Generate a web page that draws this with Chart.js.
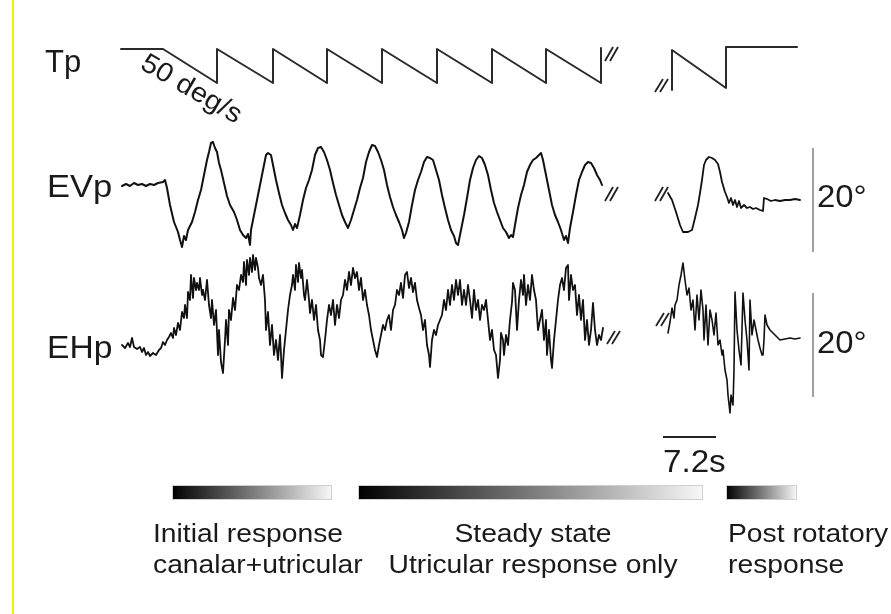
<!DOCTYPE html>
<html>
<head>
<meta charset="utf-8">
<script src="https://cdn.jsdelivr.net/npm/chart.js@4.4.1/dist/chart.umd.min.js"></script>
<style>
  html, body { margin: 0; padding: 0; background: #fff; }
  #wrap { width: 891px; height: 614px; }
</style>
</head>
<body>
<div id="wrap"><canvas id="fig" width="891" height="614"></canvas></div>
<script>
// traces, [x, y] in plot units (x: sample position, y: vertical position)
const tpPre = [
  [121, 49], [163, 49], [217, 83], [217, 49], [273, 83], [273, 49], [327, 83], [327, 49],
  [382, 83], [382, 49], [437, 83], [437, 49], [492, 83], [492, 49], [546, 83], [546, 49],
  [601, 83], [601, 48],
];
const tpPost = [[672, 90], [672, 50], [726, 88], [726, 47], [797, 47]];

const evpPre = [
  [122, 186], [126, 184], [130, 186], [134, 183], [138, 185], [142, 184], [146, 186], [150, 184],
  [154, 185], [158, 183], [163, 182], [165, 180], [167, 188], [170, 205], [174, 222], [178, 232],
  [180, 240], [182, 247], [184, 236], [186, 240], [188, 230], [192, 222], [195, 212], [198, 200],
  [201, 190], [204, 175], [207, 160], [209, 152], [211, 143], [213, 142], [215, 148], [217, 152],
  [219, 163], [221, 170], [224, 183], [227, 196], [230, 205], [234, 212], [237, 220], [240, 230],
  [243, 235], [246, 238], [248, 234], [250, 245], [251, 230], [253, 220], [256, 205], [259, 190],
  [262, 175], [264, 165], [266, 155], [268, 153], [271, 155], [273, 165], [276, 180], [279, 193],
  [282, 205], [285, 213], [288, 220], [291, 225], [293, 230], [295, 224], [297, 228], [300, 215],
  [303, 200], [306, 188], [309, 180], [312, 170], [315, 155], [318, 148], [321, 147], [324, 152],
  [327, 160], [330, 170], [333, 183], [336, 195], [339, 205], [342, 215], [345, 222], [348, 228],
  [351, 220], [354, 210], [357, 200], [360, 188], [363, 178], [366, 162], [369, 152], [372, 145],
  [375, 146], [378, 152], [381, 160], [384, 170], [387, 185], [390, 197], [393, 207], [396, 215],
  [399, 222], [402, 230], [404, 238], [406, 233], [409, 222], [412, 205], [415, 190], [418, 180],
  [421, 172], [424, 162], [427, 157], [430, 158], [433, 160], [436, 170], [439, 180], [442, 195],
  [445, 208], [448, 220], [451, 230], [454, 236], [456, 243], [458, 245], [461, 230], [464, 215],
  [467, 198], [470, 180], [473, 168], [476, 160], [479, 156], [482, 158], [485, 165], [488, 175],
  [491, 190], [494, 203], [497, 212], [500, 220], [503, 228], [506, 232], [509, 238], [511, 235],
  [513, 237], [515, 225], [518, 208], [521, 195], [524, 185], [527, 172], [530, 165], [533, 160],
  [536, 158], [539, 155], [541, 153], [543, 160], [546, 175], [549, 190], [552, 205], [555, 215],
  [558, 222], [561, 230], [564, 240], [566, 236], [568, 243], [570, 228], [573, 212], [576, 195],
  [579, 180], [582, 172], [585, 165], [588, 162], [591, 163], [594, 168], [597, 175], [600, 180],
  [602, 185],
];
const evpPost = [
  [668, 193], [672, 200], [676, 212], [680, 225], [683, 232], [688, 232], [692, 230], [695, 218],
  [698, 205], [700, 193], [702, 180], [704, 165], [706, 160], [709, 157], [712, 158], [715, 160],
  [718, 164], [720, 172], [722, 182], [725, 192], [727, 197], [729, 203], [731, 198], [733, 205],
  [735, 200], [737, 207], [739, 201], [741, 208], [744, 205], [747, 208], [750, 207], [753, 209],
  [756, 208], [760, 210], [763, 211], [764, 198], [767, 199], [771, 201], [775, 200], [780, 201],
  [785, 200], [790, 200], [795, 199], [800, 200],
];

const ehpPre = [
  [122, 345], [125, 348], [128, 343], [130, 347], [132, 338], [134, 347], [137, 349], [140, 347],
  [142, 352], [144, 348], [146, 355], [148, 352], [150, 356], [153, 353], [156, 355], [159, 350],
  [161, 348], [163, 342], [165, 345], [167, 340], [169, 337], [171, 333], [173, 338], [174, 328],
  [176, 335], [178, 323], [180, 330], [182, 312], [184, 318], [185, 305], [187, 318], [188, 292],
  [190, 300], [191, 275], [193, 298], [194, 278], [196, 290], [197, 283], [199, 290], [200, 278],
  [202, 295], [203, 290], [205, 300], [207, 280], [209, 305], [211, 318], [212, 300], [214, 325],
  [216, 310], [218, 355], [219, 330], [221, 362], [223, 373], [225, 340], [226, 320], [228, 345],
  [229, 310], [231, 320], [233, 298], [235, 310], [237, 285], [239, 290], [241, 275], [243, 282],
  [244, 262], [246, 285], [247, 260], [249, 275], [250, 258], [252, 272], [253, 255], [255, 270],
  [256, 258], [258, 268], [259, 278], [261, 285], [263, 275], [265, 300], [266, 330], [268, 312],
  [270, 345], [272, 325], [274, 355], [276, 340], [278, 360], [280, 335], [281, 355], [282, 378],
  [284, 350], [286, 330], [288, 310], [290, 295], [292, 285], [293, 275], [295, 290], [296, 265],
  [298, 282], [299, 263], [301, 278], [302, 270], [304, 295], [305, 300], [307, 280], [309, 300],
  [310, 313], [312, 300], [314, 320], [316, 305], [318, 330], [320, 340], [321, 355], [323, 357],
  [325, 340], [327, 320], [329, 305], [331, 315], [333, 300], [335, 325], [337, 305], [339, 318],
  [341, 300], [343, 295], [345, 280], [347, 290], [349, 272], [351, 285], [353, 268], [355, 278],
  [357, 272], [359, 290], [361, 278], [363, 300], [365, 290], [367, 305], [369, 315], [371, 330],
  [373, 340], [375, 350], [377, 357], [379, 345], [381, 335], [383, 325], [385, 330], [387, 320],
  [389, 315], [391, 330], [393, 310], [395, 305], [397, 290], [399, 295], [401, 283], [403, 298],
  [405, 275], [407, 272], [409, 288], [411, 278], [413, 292], [415, 283], [417, 300], [419, 308],
  [421, 315], [423, 330], [425, 320], [427, 345], [429, 355], [430, 367], [432, 340], [434, 330],
  [436, 335], [438, 325], [440, 320], [442, 315], [444, 300], [446, 310], [448, 290], [450, 305],
  [452, 285], [454, 300], [456, 280], [458, 295], [460, 280], [462, 305], [464, 290], [466, 305],
  [468, 285], [470, 300], [472, 318], [474, 290], [476, 310], [478, 300], [480, 320], [482, 305],
  [484, 310], [486, 300], [488, 320], [490, 340], [492, 330], [494, 350], [496, 355], [498, 378],
  [500, 360], [501, 333], [503, 340], [504, 355], [506, 335], [508, 345], [510, 320], [512, 302],
  [513, 283], [515, 290], [517, 330], [519, 300], [521, 280], [523, 295], [524, 275], [526, 305],
  [528, 285], [530, 300], [532, 275], [534, 290], [536, 300], [538, 330], [540, 320], [542, 310],
  [544, 340], [546, 320], [547, 355], [549, 330], [551, 360], [552, 368], [554, 340], [556, 320],
  [558, 300], [560, 285], [562, 278], [564, 290], [566, 268], [568, 265], [569, 300], [571, 275],
  [573, 290], [575, 285], [577, 315], [579, 295], [581, 320], [583, 300], [585, 340], [587, 320],
  [589, 345], [591, 330], [593, 303], [595, 330], [597, 345], [599, 335], [601, 340], [603, 328],
];
const ehpPost = [
  [668, 333], [670, 322], [672, 308], [674, 318], [675, 305], [677, 300], [679, 285], [681, 275],
  [683, 263], [685, 280], [687, 295], [689, 288], [691, 310], [693, 300], [695, 330], [697, 295],
  [699, 320], [701, 290], [703, 310], [704, 340], [706, 305], [708, 345], [710, 310], [712, 320],
  [714, 335], [716, 313], [718, 345], [720, 340], [722, 355], [723, 350], [725, 370], [727, 380],
  [728, 395], [730, 413], [731, 395], [733, 405], [734, 370], [735, 292], [737, 330], [739, 350],
  [741, 365], [743, 293], [745, 320], [747, 340], [749, 370], [750, 300], [752, 335], [754, 320],
  [756, 330], [758, 340], [760, 348], [762, 355], [763, 355], [764, 340], [765, 315], [767, 325],
  [770, 330], [773, 333], [776, 336], [780, 340], [785, 339], [790, 338], [795, 339], [800, 338],
];

const traceLabels = ['Tp', 'EVp', 'EHp'];
const ampLabel = '20°';
const timeLabel = '7.2s';
const rampLabel = '50 deg/s';
const phaseLabels = [
  ['Initial response', 'canalar+utricular'],
  ['Steady state', 'Utricular response only'],
  ['Post rotatory', 'response'],
];

const pts = (arr) => arr.map(([x, y]) => ({ x, y }));

function traceSet(arr, width, color) {
  return {
    data: pts(arr),
    showLine: true,
    borderColor: color,
    borderWidth: width,
    pointRadius: 0,
    tension: 0,
    borderJoinStyle: 'round',
    borderCapStyle: 'round',
  };
}

const FONT = '"Liberation Sans", Arial, Helvetica, sans-serif';

function stretchedText(ctx, text, x, y, size, sx, align, angle) {
  ctx.save();
  ctx.translate(x, y);
  if (angle) ctx.rotate(angle);
  ctx.scale(sx, 1);
  ctx.font = size + 'px ' + FONT;
  ctx.textAlign = align || 'left';
  ctx.textBaseline = 'alphabetic';
  ctx.fillText(text, 0, 0);
  ctx.restore();
}

const decor = {
  id: 'decor',
  afterDatasetsDraw(chart) {
    const ctx = chart.ctx;
    const sx = (v) => chart.scales.x.getPixelForValue(v);
    const sy = (v) => chart.scales.y.getPixelForValue(v);

    ctx.save();
    // yellow frame edge on the left
    ctx.strokeStyle = '#f7f000';
    ctx.lineWidth = 2;
    ctx.beginPath();
    ctx.moveTo(sx(13), sy(0));
    ctx.lineTo(sx(13), sy(614));
    ctx.stroke();

    // axis breaks
    ctx.strokeStyle = '#222';
    ctx.lineWidth = 1.8;
    const breaks = [[605, 61, 47], [655, 92, 79], [605, 201, 187], [655, 201, 187], [607, 344, 331], [656, 326, 313]];
    breaks.forEach(([bx, y0, y1]) => {
      [0, 5].forEach((d) => {
        ctx.beginPath();
        ctx.moveTo(sx(bx + d), sy(y0));
        ctx.lineTo(sx(bx + d + 8), sy(y1));
        ctx.stroke();
      });
    });

    // amplitude scale bars
    ctx.strokeStyle = '#8a8a8a';
    ctx.lineWidth = 1.6;
    [[148, 252], [293, 397]].forEach(([a, b]) => {
      ctx.beginPath();
      ctx.moveTo(sx(813), sy(a));
      ctx.lineTo(sx(813), sy(b));
      ctx.stroke();
    });

    // time scale bar
    ctx.strokeStyle = '#222';
    ctx.lineWidth = 2;
    ctx.beginPath();
    ctx.moveTo(sx(663), sy(437));
    ctx.lineTo(sx(716), sy(437));
    ctx.stroke();

    // phase gradient bars
    [[172, 332], [358, 703], [726, 797]].forEach(([a, b]) => {
      const g = ctx.createLinearGradient(sx(a), 0, sx(b), 0);
      g.addColorStop(0, '#000');
      g.addColorStop(0.5, '#7a7a7a');
      g.addColorStop(1, '#f8f8f8');
      ctx.fillStyle = g;
      ctx.fillRect(sx(a), sy(485), sx(b) - sx(a), sy(500) - sy(485));
      ctx.strokeStyle = '#d0d0d0';
      ctx.lineWidth = 1;
      ctx.strokeRect(sx(a) + 0.5, sy(485) + 0.5, sx(b) - sx(a) - 1, sy(500) - sy(485) - 1);
    });

    // text
    ctx.fillStyle = '#1a1a1a';
    stretchedText(ctx, traceLabels[0], sx(45), sy(72), 31, 1.0);
    stretchedText(ctx, traceLabels[1], sx(47), sy(197), 32, 1.08);
    stretchedText(ctx, traceLabels[2], sx(47), sy(358), 32, 1.05);
    stretchedText(ctx, ampLabel, sx(817), sy(207), 31, 1.06);
    stretchedText(ctx, ampLabel, sx(817), sy(353), 31, 1.06);
    stretchedText(ctx, timeLabel, sx(663), sy(472), 31, 1.07);
    stretchedText(ctx, rampLabel, sx(139), sy(68), 27, 1.08, 'left', Math.PI / 6);

    stretchedText(ctx, phaseLabels[0][0], sx(153), sy(542), 26, 1.087);
    stretchedText(ctx, phaseLabels[0][1], sx(153), sy(573), 26, 1.087);
    stretchedText(ctx, phaseLabels[1][0], sx(533), sy(542), 26, 1.087, 'center');
    stretchedText(ctx, phaseLabels[1][1], sx(533), sy(573), 26, 1.087, 'center');
    stretchedText(ctx, phaseLabels[2][0], sx(728), sy(542), 26, 1.087);
    stretchedText(ctx, phaseLabels[2][1], sx(728), sy(573), 26, 1.087);
    ctx.restore();
  },
};

new Chart(document.getElementById('fig'), {
  type: 'scatter',
  data: {
    datasets: [
      traceSet(tpPre, 2, '#2a2a2a'),
      traceSet(tpPost, 2, '#2a2a2a'),
      traceSet(evpPre, 2, '#111'),
      traceSet(evpPost, 1.8, '#111'),
      traceSet(ehpPre, 1.8, '#111'),
      traceSet(ehpPost, 1.6, '#111'),
    ],
  },
  options: {
    responsive: false,
    animation: false,
    events: [],
    layout: { padding: 0 },
    plugins: { legend: { display: false }, tooltip: { enabled: false } },
    scales: {
      x: { type: 'linear', min: 0, max: 891, display: false },
      y: { type: 'linear', min: 0, max: 614, reverse: true, display: false },
    },
  },
  plugins: [decor],
});
</script>
</body>
</html>
